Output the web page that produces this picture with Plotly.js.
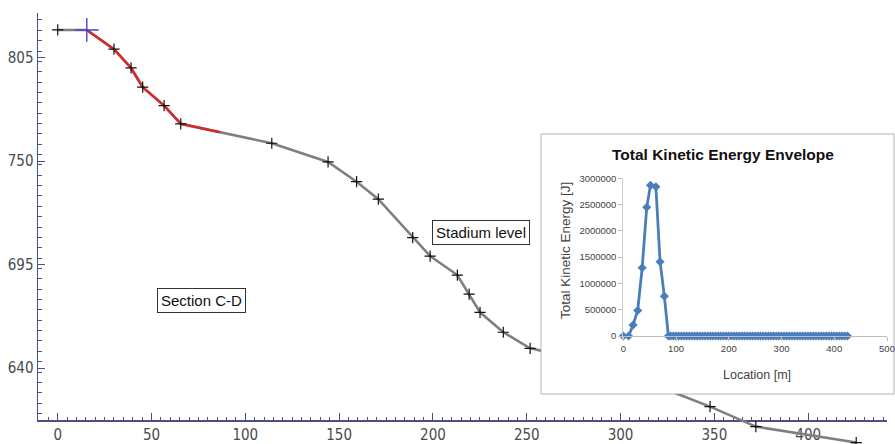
<!DOCTYPE html>
<html>
<head>
<meta charset="utf-8">
<script src="https://cdn.plot.ly/plotly-3.0.1.min.js"></script>
<style>html,body{margin:0;padding:0;background:#fff}#chart{width:895px;height:444px}</style>
</head>
<body>
<div id="chart"></div>
<script>
// ---------- main profile (Section C-D) ----------
const profileX = [0, 15.5, 30.0, 39.1, 45.3, 56.7, 65.6, 114.1, 144.1, 159.3, 170.9, 189.2, 198.5, 213.0, 219.3, 225.1, 237.5, 251.8, 287.5, 347.7, 372.1, 425.6];
const profileY = [819.7, 819.7, 809.5, 799.5, 789.3, 779.5, 769.8, 759.5, 749.6, 739.1, 729.8, 709.4, 699.6, 689.5, 679.4, 669.7, 659.1, 650.6, 643.0, 619.6, 609.0, 600.5];
const redX = [15.5, 30.0, 39.1, 45.3, 56.7, 65.6, 86.5];
const redY = [819.7, 809.5, 799.5, 789.3, 779.5, 769.8, 765.4];
const startX = [15.5];
const startY = [819.7];
const labelSection = {x: 76.5, y: 676.1, text: 'Section C-D'};
const labelStadium = {x: 225.8, y: 712.0, text: 'Stadium level'};

// ---------- inset: Total Kinetic Energy Envelope ----------
const keX = [0, 10, 18.5, 27.3, 35.8, 44.4, 51.6, 61.8, 69.7, 77.9, 85.5,
  90, 95, 100, 105, 110, 115, 120, 125, 130, 135,
  140, 145, 150, 155, 160, 165, 170, 175, 180, 185,
  190, 195, 200, 205, 210, 215, 220, 225, 230, 235,
  240, 245, 250, 255, 260, 265, 270, 275, 280, 285,
  290, 295, 300, 305, 310, 315, 320, 325, 330, 335,
  340, 345, 350, 355, 360, 365, 370, 375, 380, 385,
  390, 395, 400, 405, 410, 415, 420, 425];
const keY = [0, 0, 209000, 485000, 1298000, 2448000, 2866000, 2840000, 1413000, 755000, 0,
  0, 0, 0, 0, 0, 0, 0, 0, 0, 0,
  0, 0, 0, 0, 0, 0, 0, 0, 0, 0,
  0, 0, 0, 0, 0, 0, 0, 0, 0, 0,
  0, 0, 0, 0, 0, 0, 0, 0, 0, 0,
  0, 0, 0, 0, 0, 0, 0, 0, 0, 0,
  0, 0, 0, 0, 0, 0, 0, 0, 0, 0,
  0, 0, 0, 0, 0, 0, 0, 0];
const keYTicks = [0, 500000, 1000000, 1500000, 2000000, 2500000, 3000000];
const keXTicks = [0, 100, 200, 300, 400, 500];
const insetTitle = 'Total Kinetic Energy Envelope';
const insetYTitle = 'Total Kinetic Energy [J]';
const insetXTitle = 'Location [m]';

// ---------- geometry (pixels) ----------
const W = 895, H = 444, L = 38, R = 8, T = 13, B = 0;
const PW = W - L - R, PH = H - T - B;
const X0 = -10.5, X1 = 442, Y0 = 612.5, Y1 = 828.7;
const axisBottomPx = 420;
const kx = PW / (X1 - X0);
const ky = (axisBottomPx - T) / (Y1 - Y0);
const xv = px => X0 + (px - L) / kx;
const yv = py => Y1 - (py - T) / ky;
const fx = px => (px - L) / PW;
const fy = py => (H - B - py) / PH;

const inset = {l: 541, t: 134, r: 894, b: 394};
const insetPlot = {l: 623.3, r: 887, t: 178.3, b: 336};

const axisCol = '#4e4e86';
const mainTickFont = {family: '"Liberation Sans Narrow", "Arial Narrow", "DejaVu Sans Condensed", "Liberation Sans", Arial, sans-serif', size: 15, color: '#4a4a4a'};
const insetFont = '"Liberation Sans", Arial, sans-serif';

function profileTraces(xa, ya, withRed) {
  const tr = [];
  tr.push({x: profileX, y: profileY, xaxis: xa, yaxis: ya, mode: 'lines',
    line: {color: '#7f7f7f', width: 2.6}, hoverinfo: 'skip', showlegend: false});
  if (withRed) {
    tr.push({x: redX, y: redY, xaxis: xa, yaxis: ya, mode: 'lines',
      line: {color: '#d42a2a', width: 2.6}, hoverinfo: 'skip', showlegend: false});
  }
  const mx = profileX.filter((v, i) => i !== 1 && i !== 18);
  const my = profileY.filter((v, i) => i !== 1 && i !== 18);
  tr.push({x: mx, y: my, xaxis: xa, yaxis: ya, mode: 'markers',
    marker: {symbol: 'cross-thin', size: 8, color: '#111', line: {color: '#111', width: 1.2}},
    hoverinfo: 'skip', showlegend: false});
  if (withRed) {
    tr.push({x: startX, y: startY, xaxis: xa, yaxis: ya, mode: 'markers',
      marker: {symbol: 'cross-thin', size: 17, color: '#4646c8', line: {color: '#4646c8', width: 1.4}},
      hoverinfo: 'skip', showlegend: false});
  }
  return tr;
}

const data = [
  {x: [null], y: [null], xaxis: 'x', yaxis: 'y', mode: 'markers', hoverinfo: 'skip', showlegend: false},
  ...profileTraces('x2', 'y2', true),
  ...profileTraces('x3', 'y3', false),
  {x: keX, y: keY, xaxis: 'x4', yaxis: 'y4', mode: 'lines+markers', cliponaxis: false,
    line: {color: '#4a7ebb', width: 2.8},
    marker: {symbol: 'diamond', size: 7, color: '#4a7ebb'},
    hoverinfo: 'skip', showlegend: false}
];

const hidden = {visible: false, fixedrange: true};
const splitX = fx(inset.l);

const layout = {
  width: W, height: H,
  margin: {l: L, r: R, t: T, b: B, pad: 0},
  paper_bgcolor: '#ffffff', plot_bgcolor: 'rgba(0,0,0,0)',
  showlegend: false,
  xaxis: {domain: [0, 1], range: [X0, X1], anchor: 'y', tick0: 0, dtick: 50,
    showline: true, linecolor: axisCol, linewidth: 1.5, mirror: false,
    ticks: 'inside', ticklen: 7, tickwidth: 1, tickcolor: axisCol,
    minor: {dtick: 5, ticks: 'inside', ticklen: 3.5, tickcolor: axisCol, tickwidth: 1},
    showgrid: false, zeroline: false, tickfont: mainTickFont, fixedrange: true},
  yaxis: {domain: [fy(axisBottomPx), 1], range: [Y0, Y1], anchor: 'x', tick0: 640, dtick: 55,
    showline: true, linecolor: axisCol, linewidth: 1.5,
    ticks: 'inside', ticklen: 7, tickwidth: 1, tickcolor: axisCol,
    minor: {dtick: 5.5, ticks: 'inside', ticklen: 3.5, tickcolor: axisCol, tickwidth: 1},
    showgrid: false, zeroline: false, tickfont: mainTickFont, fixedrange: true},
  xaxis2: Object.assign({domain: [0, splitX], range: [X0, xv(inset.l)], anchor: 'y2'}, hidden),
  yaxis2: Object.assign({domain: [0, 1], range: [yv(H), Y1], anchor: 'x2'}, hidden),
  xaxis3: Object.assign({domain: [splitX, 1], range: [xv(inset.l), X1], anchor: 'y3'}, hidden),
  yaxis3: Object.assign({domain: [0, fy(inset.b)], range: [yv(H), yv(inset.b)], anchor: 'x3'}, hidden),
  xaxis4: {domain: [fx(insetPlot.l), fx(insetPlot.r)], range: [0, 500], anchor: 'free', position: fy(insetPlot.b),
    tickvals: keXTicks, showline: true, linecolor: '#bdbdbd', linewidth: 1,
    ticks: 'outside', ticklen: 4, tickcolor: '#bdbdbd',
    showgrid: false, zeroline: false, fixedrange: true,
    tickfont: {family: insetFont, size: 9.5, color: '#3f3f3f'}},
  yaxis4: {domain: [fy(insetPlot.b + 3), fy(insetPlot.t)], range: [-3000000 * 3 / (insetPlot.b - insetPlot.t), 3000000], anchor: 'x4',
    tickvals: keYTicks, tickformat: 'd', showline: true, linecolor: '#d0d0d0', linewidth: 1,
    ticks: 'outside', ticklen: 4, tickcolor: '#bdbdbd',
    showgrid: false, zeroline: false, fixedrange: true,
    tickfont: {family: insetFont, size: 9.5, color: '#3f3f3f'}},
  shapes: [
    {type: 'rect', xref: 'paper', yref: 'paper', x0: fx(inset.l), x1: fx(inset.r), y0: fy(inset.b), y1: fy(inset.t),
      fillcolor: '#ffffff', line: {color: '#b4b4b4', width: 1}, layer: 'below'}
  ],
  annotations: [
    {x: labelSection.x, y: labelSection.y, xref: 'x', yref: 'y', text: labelSection.text, showarrow: false,
      font: {family: insetFont, size: 15, color: '#111'}, bordercolor: '#333', borderwidth: 1, borderpad: 3, bgcolor: '#fff'},
    {x: labelStadium.x, y: labelStadium.y, xref: 'x', yref: 'y', text: labelStadium.text, showarrow: false,
      font: {family: insetFont, size: 15, color: '#111'}, bordercolor: '#333', borderwidth: 1, borderpad: 3, bgcolor: '#fff'},
    {x: fx(723), y: fy(155), xref: 'paper', yref: 'paper', text: '<b>' + insetTitle + '</b>', showarrow: false,
      xanchor: 'center', yanchor: 'middle', font: {family: insetFont, size: 15.5, color: '#111'}},
    {x: fx(565), y: fy(251), xref: 'paper', yref: 'paper', text: insetYTitle, showarrow: false, textangle: -90,
      xanchor: 'center', yanchor: 'middle', font: {family: insetFont, size: 13.5, color: '#3f3f3f'}},
    {x: fx(756.7), y: fy(375), xref: 'paper', yref: 'paper', text: insetXTitle, showarrow: false,
      xanchor: 'center', yanchor: 'middle', font: {family: insetFont, size: 12.5, color: '#3f3f3f'}}
  ]
};

Plotly.newPlot('chart', data, layout, {staticPlot: true, displayModeBar: false});
</script>
</body>
</html>
